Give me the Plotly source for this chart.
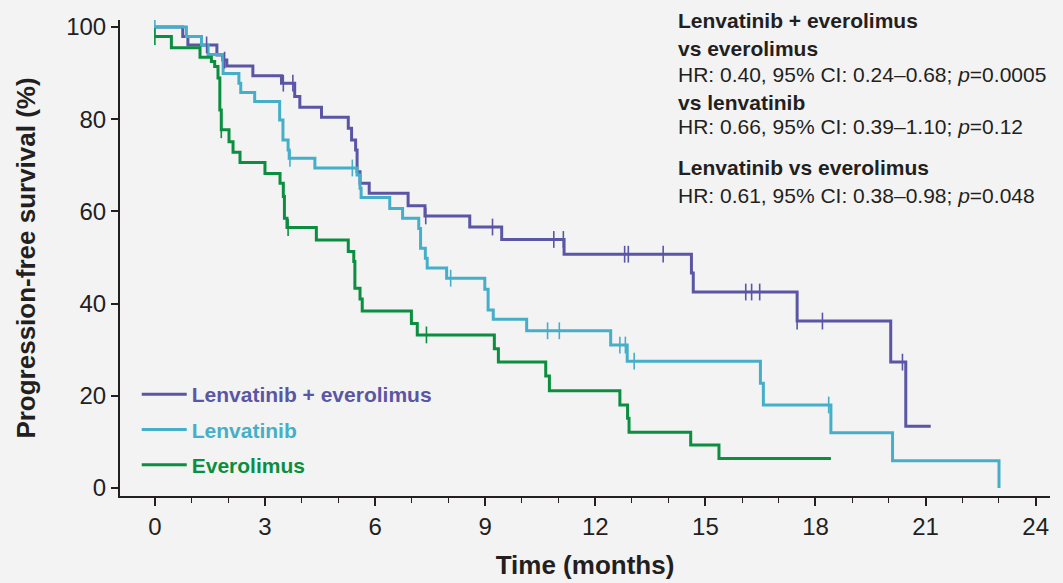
import plotly.graph_objects as go

# ---------------- data ----------------
arm_names = ["Lenvatinib + everolimus", "Lenvatinib", "Everolimus"]
arm_colors = ["#5a56a5", "#45afc9", "#0b8e3f"]

# Lenvatinib + everolimus: step times (months) and survival after each step (%)
le_time = [0, 0.76, 0.9, 1.69, 1.85, 1.96, 2.67, 3.45, 3.81, 3.95, 4.54, 5.27, 5.36, 5.47,
           5.51, 5.59, 5.84, 6.9, 7.36, 8.58, 9.45, 11.15, 14.62, 14.67, 17.5, 20.05, 20.46, 21.14]
le_surv = [100, 97.9, 96.1, 93.9, 92.8, 91.5, 89.4, 87.8, 84.9, 82.6, 80.4, 78.0, 75.5, 73.3,
           68.6, 66.1, 63.9, 61.2, 59.0, 56.6, 53.9, 50.7, 46.6, 42.5, 36.2, 27.3, 13.4, 13.4]
le_cens_t = [1.41, 1.9, 3.5, 3.76, 7.38, 9.2, 10.87, 11.13, 12.8, 12.9, 13.85, 16.1, 16.26, 16.48,
             17.5, 18.19, 20.37]
le_cens_s = [96.1, 92.8, 87.8, 87.8, 59.0, 56.6, 53.9, 53.9, 50.7, 50.7, 50.7, 42.5, 42.5, 42.5,
             36.2, 36.2, 27.3]

# Lenvatinib
l_time = [0, 0.86, 1.27, 1.45, 1.86, 2.29, 2.34, 2.72, 3.4, 3.49, 3.63, 3.66, 4.36, 5.51, 5.59,
          5.62, 6.4, 6.75, 7.19, 7.24, 7.37, 7.42, 7.95, 8.99, 9.08, 9.22, 10.13, 12.42, 12.87,
          16.5, 16.58, 18.42, 20.1, 23.0]
l_surv = [100, 97.9, 96.0, 94.0, 89.9, 87.8, 85.8, 83.8, 79.8, 75.5, 73.3, 71.5, 69.4, 67.9, 65.0,
          63.0, 60.6, 58.5, 56.3, 52.0, 49.8, 47.7, 45.5, 43.1, 38.6, 36.6, 34.1, 31.0, 27.5,
          22.7, 18.0, 12.0, 5.9, 0]
l_cens_t = [0, 3.68, 5.38, 8.06, 10.7, 11.02, 12.67, 12.82, 13.06, 18.36]
l_cens_s = [100, 71.5, 69.4, 45.5, 34.1, 34.1, 31.0, 31.0, 27.5, 18.0]

# Everolimus
e_time = [0, 0.45, 1.23, 1.54, 1.63, 1.72, 1.77, 1.81, 2.02, 2.13, 2.32, 3.0, 3.41, 3.5, 3.53,
          3.6, 4.4, 5.27, 5.42, 5.45, 5.59, 5.65, 6.99, 7.15, 9.25, 9.36, 10.65, 10.75, 12.67,
          12.88, 12.92, 14.6, 15.37, 18.42]
e_surv = [97.9, 95.5, 93.4, 92.5, 91.4, 88.9, 82.0, 77.7, 75.1, 72.8, 70.6, 68.2, 66.1, 63.2, 58.5,
          56.5, 53.8, 51.3, 49.1, 43.3, 41.0, 38.4, 35.7, 33.2, 30.2, 27.3, 24.3, 21.1, 18.0,
          15.1, 12.1, 9.3, 6.4, 6.4]
e_cens_t = [0, 1.81, 3.63, 7.4]
e_cens_s = [97.9, 77.7, 56.5, 33.2]

x_ticks = [0, 3, 6, 9, 12, 15, 18, 21, 24]
y_ticks = [0, 20, 40, 60, 80, 100]

stats_lines = [
    ("<b>Lenvatinib + everolimus</b>", 20),
    ("<b>vs everolimus</b>", 48),
    ("HR: 0.40, 95% CI: 0.24–0.68; <i>p</i>=0.0005", 74),
    ("<b>vs lenvatinib</b>", 102),
    ("HR: 0.66, 95% CI: 0.39–1.10; <i>p</i>=0.12", 126),
    ("<b>Lenvatinib vs everolimus</b>", 167),
    ("HR: 0.61, 95% CI: 0.38–0.98; <i>p</i>=0.048", 195),
]

# ---------------- figure ----------------
W, H = 1063, 583
ML, MR, MT, MB = 120, 13, 20, 87
plot_h = H - MT - MB
FONT = "Liberation Sans, Arial, Helvetica, sans-serif"
TXT = "#231f20"
BG = "#f3f3f3"

fig = go.Figure()
curves = [(le_time, le_surv, le_cens_t, le_cens_s),
          (l_time, l_surv, l_cens_t, l_cens_s),
          (e_time, e_surv, e_cens_t, e_cens_s)]

for i, (t, s, ct, cs) in enumerate(curves):
    fig.add_trace(go.Scatter(
        x=t, y=s, mode="lines", line=dict(color=arm_colors[i], width=3, shape="hv"),
        name=f"<b><span style='color:{arm_colors[i]}'>{arm_names[i]}</span></b>",
        legendgroup=f"g{i}", hoverinfo="skip"))
for i, (t, s, ct, cs) in enumerate(curves):
    fig.add_trace(go.Scatter(
        x=ct, y=cs, mode="markers", showlegend=False, hoverinfo="skip",
        marker=dict(symbol="line-ns-open", size=12, color=arm_colors[i],
                    line=dict(color=arm_colors[i], width=1.6))))


def py2paper(py):
    return (H - MB - py) / plot_h


for text, py in stats_lines:
    fig.add_annotation(text=text, xref="paper", yref="paper",
                       x=(676 - ML) / (W - ML - MR), y=py2paper(py),
                       xanchor="left", yanchor="middle", showarrow=False,
                       font=dict(family=FONT, size=21, color=TXT), align="left")

fig.update_layout(
    width=W, height=H,
    margin=dict(l=ML, r=MR, t=MT, b=MB, autoexpand=False),
    paper_bgcolor=BG, plot_bgcolor=BG,
    font=dict(family=FONT, color=TXT),
    hovermode=False,
    legend=dict(x=0.018, y=py2paper(374), xanchor="left", yanchor="top",
                bgcolor="rgba(0,0,0,0)", font=dict(size=21, family=FONT),
                tracegroupgap=5, itemwidth=45, traceorder="grouped"),
    xaxis=dict(range=[-0.95, 24.39], tickvals=x_ticks, ticktext=[str(v) for v in x_ticks],
               showgrid=False, zeroline=False, showline=True, linecolor=TXT, linewidth=2,
               ticks="outside", ticklen=8, tickwidth=1.5, tickcolor=TXT,
               tickfont=dict(size=24, color=TXT),
               minor=dict(dtick=1, tick0=0, ticks="outside", ticklen=5, tickwidth=1.2,
                          tickcolor=TXT, showgrid=False),
               title=dict(text="<b>Time (months)</b>", font=dict(size=26, color=TXT),
                          standoff=17)),
    yaxis=dict(range=[-1.74, 101.5], tickvals=y_ticks, showgrid=False, zeroline=False,
               showline=True, linecolor=TXT, linewidth=2,
               ticks="outside", ticklen=7, tickwidth=1.5, tickcolor=TXT,
               tickfont=dict(size=24, color=TXT),
               title=dict(text="<b>Progression-free survival (%)</b>",
                          font=dict(size=26, color=TXT), standoff=23)),
)

fig.write_html("out.html", config={"displayModeBar": False},
               post_script=f"document.body.style.margin='0';document.body.style.background='{BG}';")
